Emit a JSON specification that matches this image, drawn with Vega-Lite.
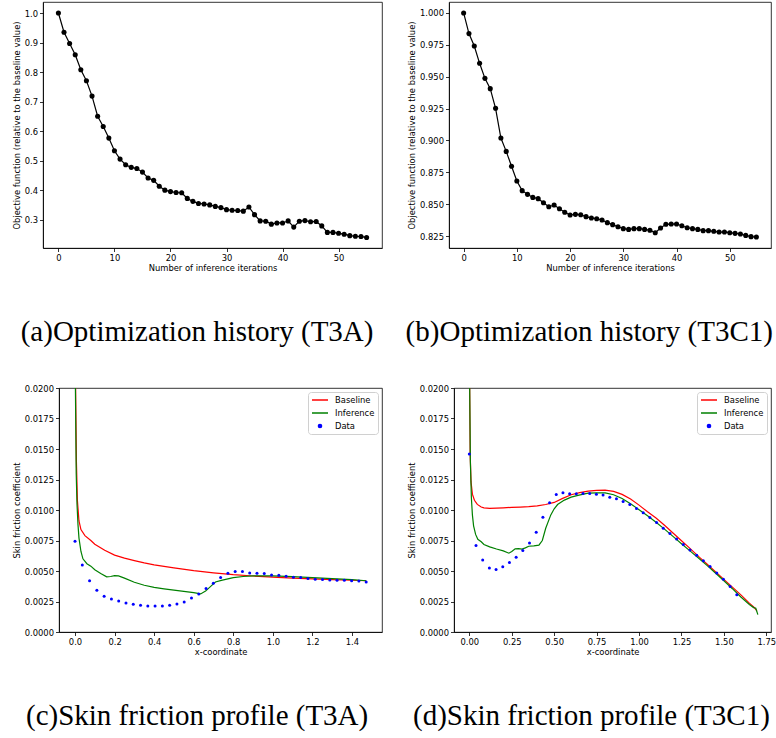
{
"$schema": "https://vega.github.io/schema/vega-lite/v6.json",
"padding": {"left": 11, "top": 1, "right": 0, "bottom": 0},
"background": "white",
"datasets": {
"histA": [
{"iter":0,"obj":1.0},{"iter":1,"obj":0.935},{"iter":2,"obj":0.897},{"iter":3,"obj":0.859},{"iter":4,"obj":0.808},{"iter":5,"obj":0.771},{"iter":6,"obj":0.719},{"iter":7,"obj":0.651},{"iter":8,"obj":0.616},{"iter":9,"obj":0.577},
{"iter":10,"obj":0.534},{"iter":11,"obj":0.506},{"iter":12,"obj":0.487},{"iter":13,"obj":0.478},{"iter":14,"obj":0.474},{"iter":15,"obj":0.462},{"iter":16,"obj":0.442},{"iter":17,"obj":0.434},{"iter":18,"obj":0.414},{"iter":19,"obj":0.401},
{"iter":20,"obj":0.396},{"iter":21,"obj":0.393},{"iter":22,"obj":0.392},{"iter":23,"obj":0.373},{"iter":24,"obj":0.363},{"iter":25,"obj":0.356},{"iter":26,"obj":0.354},{"iter":27,"obj":0.351},{"iter":28,"obj":0.346},{"iter":29,"obj":0.342},
{"iter":30,"obj":0.335},{"iter":31,"obj":0.333},{"iter":32,"obj":0.332},{"iter":33,"obj":0.330},{"iter":34,"obj":0.344},{"iter":35,"obj":0.318},{"iter":36,"obj":0.297},{"iter":37,"obj":0.296},{"iter":38,"obj":0.286},{"iter":39,"obj":0.290},
{"iter":40,"obj":0.290},{"iter":41,"obj":0.297},{"iter":42,"obj":0.276},{"iter":43,"obj":0.296},{"iter":44,"obj":0.298},{"iter":45,"obj":0.294},{"iter":46,"obj":0.295},{"iter":47,"obj":0.280},{"iter":48,"obj":0.258},{"iter":49,"obj":0.258},
{"iter":50,"obj":0.255},{"iter":51,"obj":0.252},{"iter":52,"obj":0.247},{"iter":53,"obj":0.245},{"iter":54,"obj":0.244},{"iter":55,"obj":0.241}
],
"histB": [
{"iter":0,"obj":1.0},{"iter":1,"obj":0.9838},{"iter":2,"obj":0.9741},{"iter":3,"obj":0.9605},{"iter":4,"obj":0.9487},{"iter":5,"obj":0.9406},{"iter":6,"obj":0.9252},{"iter":7,"obj":0.9019},{"iter":8,"obj":0.8914},{"iter":9,"obj":0.8797},
{"iter":10,"obj":0.8682},{"iter":11,"obj":0.8606},{"iter":12,"obj":0.8577},{"iter":13,"obj":0.8553},{"iter":14,"obj":0.8543},{"iter":15,"obj":0.8511},{"iter":16,"obj":0.848},{"iter":17,"obj":0.8493},{"iter":18,"obj":0.8464},{"iter":19,"obj":0.8436},
{"iter":20,"obj":0.8415},{"iter":21,"obj":0.842},{"iter":22,"obj":0.8417},{"iter":23,"obj":0.8402},{"iter":24,"obj":0.8391},{"iter":25,"obj":0.8386},{"iter":26,"obj":0.8376},{"iter":27,"obj":0.8355},{"iter":28,"obj":0.8339},{"iter":29,"obj":0.8323},
{"iter":30,"obj":0.8308},{"iter":31,"obj":0.8302},{"iter":32,"obj":0.8308},{"iter":33,"obj":0.8308},{"iter":34,"obj":0.8302},{"iter":35,"obj":0.8295},{"iter":36,"obj":0.8276},{"iter":37,"obj":0.8313},{"iter":38,"obj":0.8342},{"iter":39,"obj":0.8344},
{"iter":40,"obj":0.8344},{"iter":41,"obj":0.8331},{"iter":42,"obj":0.8315},{"iter":43,"obj":0.8308},{"iter":44,"obj":0.8302},{"iter":45,"obj":0.8292},{"iter":46,"obj":0.8292},{"iter":47,"obj":0.8287},{"iter":48,"obj":0.8281},{"iter":49,"obj":0.8281},
{"iter":50,"obj":0.8276},{"iter":51,"obj":0.8271},{"iter":52,"obj":0.8266},{"iter":53,"obj":0.8255},{"iter":54,"obj":0.8245},{"iter":55,"obj":0.8242}
],
"cfA": [
{"s":"Baseline","x":0.0,"cf":0.03},{"s":"Baseline","x":0.003,"cf":0.02},{"s":"Baseline","x":0.007,"cf":0.014},{"s":"Baseline","x":0.012,"cf":0.0108},{"s":"Baseline","x":0.02,"cf":0.0091},{"s":"Baseline","x":0.03,"cf":0.0084},{"s":"Baseline","x":0.05,"cf":0.0079},{"s":"Baseline","x":0.08,"cf":0.0075},{"s":"Baseline","x":0.1,"cf":0.0072},{"s":"Baseline","x":0.15,"cf":0.0067},{"s":"Baseline","x":0.2,"cf":0.0063},{"s":"Baseline","x":0.25,"cf":0.00605},{"s":"Baseline","x":0.3,"cf":0.00585},{"s":"Baseline","x":0.35,"cf":0.00566},{"s":"Baseline","x":0.4,"cf":0.0055},{"s":"Baseline","x":0.5,"cf":0.00525},{"s":"Baseline","x":0.6,"cf":0.00503},{"s":"Baseline","x":0.7,"cf":0.00485},{"s":"Baseline","x":0.8,"cf":0.0047},{"s":"Baseline","x":0.9,"cf":0.00459},{"s":"Baseline","x":1.0,"cf":0.0045},{"s":"Baseline","x":1.1,"cf":0.00442},{"s":"Baseline","x":1.2,"cf":0.00435},{"s":"Baseline","x":1.3,"cf":0.00429},{"s":"Baseline","x":1.4,"cf":0.00424},{"s":"Baseline","x":1.472,"cf":0.0042},
{"s":"Inference","x":0.0,"cf":0.03},{"s":"Inference","x":0.002,"cf":0.02},{"s":"Inference","x":0.006,"cf":0.013},{"s":"Inference","x":0.01,"cf":0.0105},{"s":"Inference","x":0.015,"cf":0.0088},{"s":"Inference","x":0.02,"cf":0.0077},{"s":"Inference","x":0.03,"cf":0.0066},{"s":"Inference","x":0.04,"cf":0.006},{"s":"Inference","x":0.06,"cf":0.0056},{"s":"Inference","x":0.08,"cf":0.0054},{"s":"Inference","x":0.1,"cf":0.0051},{"s":"Inference","x":0.13,"cf":0.0048},{"s":"Inference","x":0.16,"cf":0.00452},{"s":"Inference","x":0.18,"cf":0.00455},{"s":"Inference","x":0.2,"cf":0.00462},{"s":"Inference","x":0.22,"cf":0.0046},{"s":"Inference","x":0.25,"cf":0.00442},{"s":"Inference","x":0.3,"cf":0.00408},{"s":"Inference","x":0.35,"cf":0.00383},{"s":"Inference","x":0.4,"cf":0.00366},{"s":"Inference","x":0.45,"cf":0.00354},{"s":"Inference","x":0.5,"cf":0.00343},{"s":"Inference","x":0.55,"cf":0.00333},{"s":"Inference","x":0.6,"cf":0.00322},{"s":"Inference","x":0.635,"cf":0.00312},{"s":"Inference","x":0.66,"cf":0.00335},{"s":"Inference","x":0.69,"cf":0.0038},{"s":"Inference","x":0.71,"cf":0.0041},{"s":"Inference","x":0.74,"cf":0.00423},{"s":"Inference","x":0.8,"cf":0.00445},{"s":"Inference","x":0.85,"cf":0.00455},{"s":"Inference","x":0.9,"cf":0.0046},{"s":"Inference","x":1.0,"cf":0.0046},{"s":"Inference","x":1.1,"cf":0.00454},{"s":"Inference","x":1.2,"cf":0.00446},{"s":"Inference","x":1.3,"cf":0.00437},{"s":"Inference","x":1.4,"cf":0.00429},{"s":"Inference","x":1.472,"cf":0.0042},
{"s":"Data","x":0.0,"cf":0.00744},{"s":"Data","x":0.0368,"cf":0.0055},{"s":"Data","x":0.0736,"cf":0.00421},{"s":"Data","x":0.1104,"cf":0.00342},{"s":"Data","x":0.1472,"cf":0.00293},{"s":"Data","x":0.184,"cf":0.00271},{"s":"Data","x":0.2208,"cf":0.00254},{"s":"Data","x":0.2576,"cf":0.00238},{"s":"Data","x":0.2944,"cf":0.00227},{"s":"Data","x":0.3312,"cf":0.00219},{"s":"Data","x":0.368,"cf":0.00213},{"s":"Data","x":0.4048,"cf":0.00213},{"s":"Data","x":0.4416,"cf":0.00213},{"s":"Data","x":0.4784,"cf":0.00219},{"s":"Data","x":0.5152,"cf":0.0023},{"s":"Data","x":0.552,"cf":0.00246},{"s":"Data","x":0.5888,"cf":0.00279},{"s":"Data","x":0.6256,"cf":0.00312},{"s":"Data","x":0.6624,"cf":0.00356},{"s":"Data","x":0.6992,"cf":0.004},{"s":"Data","x":0.736,"cf":0.00446},{"s":"Data","x":0.7728,"cf":0.00482},{"s":"Data","x":0.8096,"cf":0.00495},{"s":"Data","x":0.8464,"cf":0.00495},{"s":"Data","x":0.8832,"cf":0.00484},{"s":"Data","x":0.92,"cf":0.00482},{"s":"Data","x":0.9568,"cf":0.00479},{"s":"Data","x":0.9936,"cf":0.00468},{"s":"Data","x":1.0304,"cf":0.00465},{"s":"Data","x":1.0672,"cf":0.00457},{"s":"Data","x":1.104,"cf":0.00449},{"s":"Data","x":1.1408,"cf":0.00446},{"s":"Data","x":1.1776,"cf":0.00438},{"s":"Data","x":1.2144,"cf":0.00432},{"s":"Data","x":1.2512,"cf":0.0043},{"s":"Data","x":1.288,"cf":0.00427},{"s":"Data","x":1.3248,"cf":0.00424},{"s":"Data","x":1.3616,"cf":0.00424},{"s":"Data","x":1.3984,"cf":0.00421},{"s":"Data","x":1.4352,"cf":0.00419},{"s":"Data","x":1.472,"cf":0.0041}
],
"cfB": [
{"s":"Baseline","x":0.0,"cf":0.03},{"s":"Baseline","x":0.002,"cf":0.02},{"s":"Baseline","x":0.005,"cf":0.0145},{"s":"Baseline","x":0.01,"cf":0.0123},{"s":"Baseline","x":0.018,"cf":0.0113},{"s":"Baseline","x":0.03,"cf":0.0108},{"s":"Baseline","x":0.047,"cf":0.01046},{"s":"Baseline","x":0.07,"cf":0.01025},{"s":"Baseline","x":0.086,"cf":0.01018},{"s":"Baseline","x":0.12,"cf":0.01013},{"s":"Baseline","x":0.16,"cf":0.01015},{"s":"Baseline","x":0.2,"cf":0.01018},{"s":"Baseline","x":0.25,"cf":0.01022},{"s":"Baseline","x":0.3,"cf":0.01024},{"s":"Baseline","x":0.35,"cf":0.01027},{"s":"Baseline","x":0.4,"cf":0.01034},{"s":"Baseline","x":0.45,"cf":0.01045},{"s":"Baseline","x":0.5,"cf":0.01062},{"s":"Baseline","x":0.55,"cf":0.01095},{"s":"Baseline","x":0.6,"cf":0.01125},{"s":"Baseline","x":0.65,"cf":0.01142},{"s":"Baseline","x":0.7,"cf":0.01155},{"s":"Baseline","x":0.75,"cf":0.01161},{"s":"Baseline","x":0.8,"cf":0.01163},{"s":"Baseline","x":0.85,"cf":0.01152},{"s":"Baseline","x":0.9,"cf":0.01128},{"s":"Baseline","x":0.95,"cf":0.0109},{"s":"Baseline","x":1.0,"cf":0.0104},{"s":"Baseline","x":1.05,"cf":0.00985},{"s":"Baseline","x":1.1,"cf":0.00935},{"s":"Baseline","x":1.15,"cf":0.00875},{"s":"Baseline","x":1.2,"cf":0.00812},{"s":"Baseline","x":1.25,"cf":0.00748},{"s":"Baseline","x":1.3,"cf":0.00685},{"s":"Baseline","x":1.35,"cf":0.0062},{"s":"Baseline","x":1.4,"cf":0.00557},{"s":"Baseline","x":1.45,"cf":0.00494},{"s":"Baseline","x":1.5,"cf":0.00431},{"s":"Baseline","x":1.55,"cf":0.00368},{"s":"Baseline","x":1.6,"cf":0.00304},{"s":"Baseline","x":1.65,"cf":0.00237},{"s":"Baseline","x":1.68,"cf":0.002},{"s":"Baseline","x":1.695,"cf":0.0017},
{"s":"Inference","x":0.0,"cf":0.03},{"s":"Inference","x":0.002,"cf":0.02},{"s":"Inference","x":0.006,"cf":0.014},{"s":"Inference","x":0.012,"cf":0.011},{"s":"Inference","x":0.018,"cf":0.0096},{"s":"Inference","x":0.025,"cf":0.0087},{"s":"Inference","x":0.037,"cf":0.008},{"s":"Inference","x":0.05,"cf":0.0076},{"s":"Inference","x":0.07,"cf":0.0074},{"s":"Inference","x":0.086,"cf":0.00717},{"s":"Inference","x":0.12,"cf":0.00698},{"s":"Inference","x":0.16,"cf":0.0068},{"s":"Inference","x":0.2,"cf":0.00665},{"s":"Inference","x":0.233,"cf":0.00646},{"s":"Inference","x":0.25,"cf":0.0066},{"s":"Inference","x":0.27,"cf":0.00682},{"s":"Inference","x":0.29,"cf":0.00684},{"s":"Inference","x":0.31,"cf":0.0068},{"s":"Inference","x":0.33,"cf":0.0069},{"s":"Inference","x":0.35,"cf":0.00703},{"s":"Inference","x":0.38,"cf":0.00706},{"s":"Inference","x":0.41,"cf":0.00712},{"s":"Inference","x":0.43,"cf":0.0075},{"s":"Inference","x":0.45,"cf":0.0085},{"s":"Inference","x":0.48,"cf":0.0096},{"s":"Inference","x":0.5,"cf":0.0101},{"s":"Inference","x":0.52,"cf":0.01045},{"s":"Inference","x":0.56,"cf":0.01081},{"s":"Inference","x":0.6,"cf":0.01105},{"s":"Inference","x":0.64,"cf":0.0112},{"s":"Inference","x":0.7,"cf":0.01138},{"s":"Inference","x":0.75,"cf":0.01141},{"s":"Inference","x":0.8,"cf":0.0114},{"s":"Inference","x":0.85,"cf":0.01125},{"s":"Inference","x":0.9,"cf":0.01095},{"s":"Inference","x":0.95,"cf":0.01051},{"s":"Inference","x":1.0,"cf":0.01003},{"s":"Inference","x":1.05,"cf":0.00953},{"s":"Inference","x":1.1,"cf":0.009},{"s":"Inference","x":1.15,"cf":0.00843},{"s":"Inference","x":1.2,"cf":0.00784},{"s":"Inference","x":1.25,"cf":0.00724},{"s":"Inference","x":1.3,"cf":0.00665},{"s":"Inference","x":1.35,"cf":0.00606},{"s":"Inference","x":1.4,"cf":0.00546},{"s":"Inference","x":1.45,"cf":0.00484},{"s":"Inference","x":1.5,"cf":0.0042},{"s":"Inference","x":1.55,"cf":0.00355},{"s":"Inference","x":1.6,"cf":0.00287},{"s":"Inference","x":1.65,"cf":0.00225},{"s":"Inference","x":1.675,"cf":0.002},{"s":"Inference","x":1.688,"cf":0.00195},{"s":"Inference","x":1.7,"cf":0.00142},
{"s":"Data","x":0.0,"cf":0.01458},{"s":"Data","x":0.0394,"cf":0.00709},{"s":"Data","x":0.0788,"cf":0.00591},{"s":"Data","x":0.1182,"cf":0.00525},{"s":"Data","x":0.1576,"cf":0.00512},{"s":"Data","x":0.197,"cf":0.00534},{"s":"Data","x":0.2364,"cf":0.00569},{"s":"Data","x":0.2758,"cf":0.00613},{"s":"Data","x":0.3152,"cf":0.00668},{"s":"Data","x":0.3546,"cf":0.0073},{"s":"Data","x":0.394,"cf":0.00818},{"s":"Data","x":0.4334,"cf":0.00941},{"s":"Data","x":0.4728,"cf":0.01059},{"s":"Data","x":0.5122,"cf":0.01127},{"s":"Data","x":0.5516,"cf":0.01141},{"s":"Data","x":0.591,"cf":0.01133},{"s":"Data","x":0.6304,"cf":0.01133},{"s":"Data","x":0.6698,"cf":0.01135},{"s":"Data","x":0.7092,"cf":0.01135},{"s":"Data","x":0.7486,"cf":0.0113},{"s":"Data","x":0.788,"cf":0.01122},{"s":"Data","x":0.8274,"cf":0.01105},{"s":"Data","x":0.8668,"cf":0.01092},{"s":"Data","x":0.9062,"cf":0.0107},{"s":"Data","x":0.9456,"cf":0.01045},{"s":"Data","x":0.985,"cf":0.01012},{"s":"Data","x":1.0244,"cf":0.00977},{"s":"Data","x":1.0638,"cf":0.00938},{"s":"Data","x":1.1032,"cf":0.00897},{"s":"Data","x":1.1426,"cf":0.00851},{"s":"Data","x":1.182,"cf":0.00807},{"s":"Data","x":1.2214,"cf":0.00763},{"s":"Data","x":1.2608,"cf":0.00717},{"s":"Data","x":1.3002,"cf":0.00673},{"s":"Data","x":1.3396,"cf":0.00629},{"s":"Data","x":1.379,"cf":0.00585},{"s":"Data","x":1.4184,"cf":0.00536},{"s":"Data","x":1.4578,"cf":0.00484},{"s":"Data","x":1.4972,"cf":0.00432},{"s":"Data","x":1.5366,"cf":0.00372},{"s":"Data","x":1.576,"cf":0.00306}
]
},
"vconcat": [
{
"hconcat": [
{
"width": 339, "height": 246,
"title": "(a)Optimization history (T3A)",
"data": {"name": "histA"},
"encoding": {
"x": {"field": "iter", "type": "quantitative", "scale": {"domain": [-2.75, 57.75], "nice": false, "zero": false}, "axis": {"title": "Number of inference iterations", "values": [0, 10, 20, 30, 40, 50], "format": "d"}},
"y": {"field": "obj", "type": "quantitative", "scale": {"domain": [0.2053, 1.0372], "nice": false, "zero": false}, "axis": {"title": "Objective function (relative to the baseline value)", "values": [0.3, 0.4, 0.5, 0.6, 0.7, 0.8, 0.9, 1.0], "format": ".1f"}}
},
"layer": [
{"mark": {"type": "line", "color": "black", "strokeWidth": 1.2}, "encoding": {}},
{"mark": {"type": "point", "filled": true, "color": "black", "size": 26, "opacity": 1}, "encoding": {}}
]
},
{
"width": 322, "height": 246,
"title": "(b)Optimization history (T3C1)",
"data": {"name": "histB"},
"encoding": {
"x": {"field": "iter", "type": "quantitative", "scale": {"domain": [-2.75, 57.75], "nice": false, "zero": false}, "axis": {"title": "Number of inference iterations", "values": [0, 10, 20, 30, 40, 50], "format": "d"}},
"y": {"field": "obj", "type": "quantitative", "scale": {"domain": [0.8156, 1.0086], "nice": false, "zero": false}, "axis": {"title": "Objective function (relative to the baseline value)", "values": [0.825, 0.85, 0.875, 0.9, 0.925, 0.95, 0.975, 1.0], "format": ".3f"}}
},
"layer": [
{"mark": {"type": "line", "color": "black", "strokeWidth": 1.2}, "encoding": {}},
{"mark": {"type": "point", "filled": true, "color": "black", "size": 26, "opacity": 1}, "encoding": {}}
]
}
],
"bounds": "flush",
"spacing": 67
},
{
"hconcat": [
{
"width": 16, "height": 244,
"data": {"values": [{"v": 0}]},
"mark": {"type": "point", "opacity": 0},
"encoding": {},
"view": {"stroke": null}
},
{
"hconcat": [
{
"width": 323, "height": 244,
"title": "(c)Skin friction profile (T3A)",
"data": {"name": "cfA"},
"encoding": {
"x": {"field": "x", "type": "quantitative", "scale": {"domain": [-0.081, 1.552], "nice": false, "zero": false}, "axis": {"title": "x-coordinate", "values": [0, 0.2, 0.4, 0.6, 0.8, 1.0, 1.2, 1.4], "format": ".1f"}},
"y": {"field": "cf", "type": "quantitative", "scale": {"domain": [0, 0.02], "nice": false, "zero": false}, "axis": {"title": "Skin friction coefficient", "values": [0, 0.0025, 0.005, 0.0075, 0.01, 0.0125, 0.015, 0.0175, 0.02], "format": ".4f"}},
"color": {"field": "s", "type": "nominal", "scale": {"domain": ["Baseline", "Inference", "Data"], "range": ["#ff0000", "#008000", "#0000ff"]},
"legend": {"title": null, "orient": "top-right", "offset": 4, "symbolType": "stroke", "symbolSize": 256, "symbolStrokeWidth": 1.5, "clipHeight": 10, "labelFontSize": 8.4, "labelFont": "DejaVu Sans", "labelColor": "#000", "labelOffset": 6, "rowPadding": 3, "padding": 3, "cornerRadius": 3, "strokeColor": "#d0d0d0", "fillColor": "white",
"encode": {"symbols": {"update": {
"shape": {"signal": "datum.value === 'Data' ? 'circle' : 'stroke'"},
"size": {"signal": "datum.value === 'Data' ? 10 : 256"},
"fill": {"signal": "datum.value === 'Data' ? '#0000ff' : 'transparent'"},
"stroke": {"signal": "datum.value === 'Baseline' ? '#ff0000' : (datum.value === 'Inference' ? '#008000' : 'transparent')"},
"strokeWidth": {"value": 1.5},
"opacity": {"value": 1}}}}}}
},
"layer": [
{"transform": [{"filter": "datum.s !== 'Data'"}], "mark": {"type": "line", "strokeWidth": 1.2, "clip": true}, "encoding": {}},
{"transform": [{"filter": "datum.s === 'Data'"}], "mark": {"type": "point", "filled": true, "size": 9, "opacity": 1}, "encoding": {}}
]
},
{
"width": 317, "height": 244,
"title": "(d)Skin friction profile (T3C1)",
"data": {"name": "cfB"},
"encoding": {
"x": {"field": "x", "type": "quantitative", "scale": {"domain": [-0.0904, 1.7775], "nice": false, "zero": false}, "axis": {"title": "x-coordinate", "values": [0, 0.25, 0.5, 0.75, 1.0, 1.25, 1.5, 1.75], "format": ".2f"}},
"y": {"field": "cf", "type": "quantitative", "scale": {"domain": [0, 0.02], "nice": false, "zero": false}, "axis": {"title": "Skin friction coefficient", "values": [0, 0.0025, 0.005, 0.0075, 0.01, 0.0125, 0.015, 0.0175, 0.02], "format": ".4f"}},
"color": {"field": "s", "type": "nominal", "scale": {"domain": ["Baseline", "Inference", "Data"], "range": ["#ff0000", "#008000", "#0000ff"]},
"legend": {"title": null, "orient": "top-right", "offset": 4, "symbolType": "stroke", "symbolSize": 256, "symbolStrokeWidth": 1.5, "clipHeight": 10, "labelFontSize": 8.4, "labelFont": "DejaVu Sans", "labelColor": "#000", "labelOffset": 6, "rowPadding": 3, "padding": 3, "cornerRadius": 3, "strokeColor": "#d0d0d0", "fillColor": "white",
"encode": {"symbols": {"update": {
"shape": {"signal": "datum.value === 'Data' ? 'circle' : 'stroke'"},
"size": {"signal": "datum.value === 'Data' ? 10 : 256"},
"fill": {"signal": "datum.value === 'Data' ? '#0000ff' : 'transparent'"},
"stroke": {"signal": "datum.value === 'Baseline' ? '#ff0000' : (datum.value === 'Inference' ? '#008000' : 'transparent')"},
"strokeWidth": {"value": 1.5},
"opacity": {"value": 1}}}}}}
},
"layer": [
{"transform": [{"filter": "datum.s !== 'Data'"}], "mark": {"type": "line", "strokeWidth": 1.2, "clip": true}, "encoding": {}},
{"transform": [{"filter": "datum.s === 'Data'"}], "mark": {"type": "point", "filled": true, "size": 9, "opacity": 1}, "encoding": {}}
]
}
],
"bounds": "flush",
"spacing": 72,
"resolve": {"scale": {"color": "independent"}, "legend": {"color": "independent"}}
}
],
"bounds": "flush",
"spacing": 0,
"resolve": {"scale": {"color": "independent"}, "legend": {"color": "independent"}}
}
],
"spacing": 35,
"resolve": {"scale": {"color": "independent"}, "legend": {"color": "independent"}},
"config": {
"font": "DejaVu Sans",
"view": {"stroke": "black", "strokeWidth": 0.8},
"axis": {"grid": false, "domainColor": "black", "domainWidth": 0.8, "tickColor": "black", "tickWidth": 0.8, "tickSize": 3.5, "labelFont": "DejaVu Sans", "labelFontSize": 8.4, "labelColor": "#000", "labelPadding": 2, "labelFlush": false, "labelOverlap": false, "titleFont": "DejaVu Sans", "titleFontSize": 8.4, "titleFontWeight": "normal", "titleColor": "#000"},
"axisX": {"titlePadding": 2},
"axisY": {"titlePadding": 3},
"title": {"font": "Liberation Serif", "fontSize": 29, "fontWeight": "normal", "color": "#000", "orient": "bottom", "anchor": "middle", "frame": "bounds", "offset": 46}
}
}
